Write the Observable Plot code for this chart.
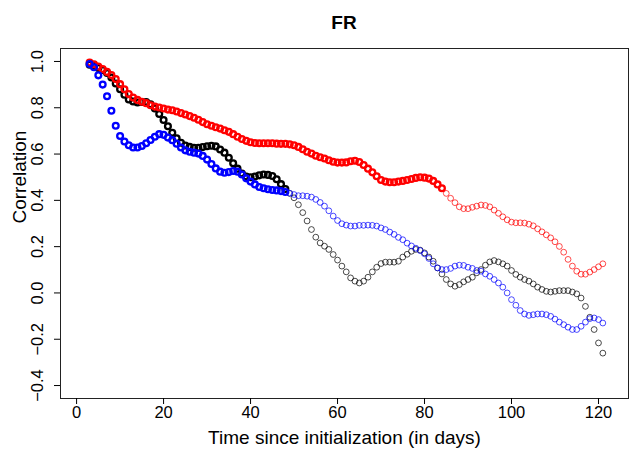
<!DOCTYPE html>
<html>
<head>
<meta charset="utf-8">
<script src="https://cdn.jsdelivr.net/npm/d3@7"></script>
<script src="https://cdn.jsdelivr.net/npm/@observablehq/plot@0.6"></script>
<style>
  html, body { margin: 0; padding: 0; background: #ffffff; }
  #wrap { position: relative; width: 630px; height: 450px; background: #ffffff; }
  #title { position: absolute; left: 60px; width: 568px; top: 12px; text-align: center;
           font: bold 19px "Liberation Sans", Arial, sans-serif; line-height: 22px; color: #000; }
  #chart { position: absolute; left: 0; top: 0; }
</style>
</head>
<body>
<div id="wrap">
  <div id="chart"></div>
  <div id="title"></div>
</div>
<script>
const title = "FR";
const xLabel = "Time since initialization (in days)";
const yLabel = "Correlation";
const xTicks = [0, 20, 40, 60, 80, 100, 120];
const yTicks = [-0.4, -0.2, 0.0, 0.2, 0.4, 0.6, 0.8, 1.0];

const days = [3,4,5,6,7,8,9,10,11,12,13,14,15,16,17,18,19,20,21,22,23,24,25,26,27,28,29,30,
  31,32,33,34,35,36,37,38,39,40,41,42,43,44,45,46,47,48,49,50,51,52,53,54,55,56,57,58,59,60,
  61,62,63,64,65,66,67,68,69,70,71,72,73,74,75,76,77,78,79,80,81,82,83,84,85,86,87,88,89,90,
  91,92,93,94,95,96,97,98,99,100,101,102,103,104,105,106,107,108,109,110,111,112,113,114,115,
  116,117,118,119,120,121];

const redValues = [0.995,0.988,0.978,0.967,0.955,0.941,0.924,0.902,0.880,0.859,0.844,0.834,0.826,0.820,
  0.811,0.805,0.801,0.797,0.792,0.789,0.784,0.777,0.771,0.764,0.757,0.748,0.738,0.729,0.722,0.716,
  0.710,0.703,0.696,0.686,0.675,0.665,0.657,0.651,0.648,0.647,0.647,0.647,0.647,0.645,0.644,0.644,
  0.642,0.638,0.631,0.621,0.610,0.602,0.593,0.586,0.581,0.573,0.567,0.563,0.563,0.564,0.569,0.571,
  0.566,0.553,0.537,0.521,0.504,0.488,0.481,0.478,0.478,0.481,0.484,0.488,0.492,0.497,0.500,0.498,
  0.494,0.484,0.469,0.452,0.430,0.409,0.390,0.372,0.364,0.364,0.370,0.375,0.380,0.378,0.372,0.358,
  0.344,0.329,0.316,0.306,0.303,0.303,0.302,0.297,0.290,0.277,0.264,0.251,0.238,0.221,0.201,0.176,
  0.145,0.116,0.094,0.081,0.081,0.090,0.101,0.113,0.126];

const blackValues = [0.986,0.980,0.972,0.963,0.950,0.931,0.905,0.880,0.856,0.836,0.827,0.823,0.825,0.825,
  0.815,0.797,0.773,0.747,0.720,0.692,0.668,0.649,0.637,0.631,0.627,0.627,0.630,0.634,0.636,0.633,
  0.620,0.606,0.584,0.560,0.537,0.516,0.503,0.500,0.503,0.508,0.512,0.510,0.505,0.491,0.470,0.449,
  0.430,0.411,0.381,0.347,0.311,0.274,0.241,0.216,0.202,0.188,0.166,0.142,0.116,0.091,0.065,0.051,
  0.043,0.051,0.068,0.091,0.111,0.127,0.133,0.133,0.133,0.137,0.155,0.167,0.180,0.188,0.185,0.173,
  0.155,0.137,0.108,0.082,0.058,0.039,0.029,0.036,0.048,0.058,0.068,0.087,0.101,0.120,0.134,0.140,
  0.134,0.126,0.116,0.097,0.080,0.068,0.058,0.051,0.039,0.025,0.015,0.007,0.004,0.007,0.010,0.010,
  0.010,0.004,-0.004,-0.022,-0.058,-0.105,-0.158,-0.216,-0.260];

const blueValues = [0.989,0.975,0.940,0.900,0.850,0.787,0.722,0.678,0.654,0.638,0.628,0.628,0.635,0.647,
  0.661,0.675,0.686,0.683,0.671,0.660,0.645,0.628,0.616,0.610,0.606,0.602,0.592,0.576,0.557,0.538,
  0.524,0.519,0.522,0.527,0.524,0.512,0.495,0.481,0.469,0.458,0.452,0.448,0.445,0.443,0.440,0.436,
  0.431,0.425,0.420,0.420,0.418,0.414,0.404,0.391,0.375,0.355,0.332,0.313,0.299,0.293,0.289,0.289,
  0.292,0.292,0.293,0.292,0.289,0.281,0.274,0.263,0.253,0.240,0.230,0.215,0.203,0.193,0.183,0.169,
  0.149,0.126,0.108,0.101,0.101,0.106,0.116,0.120,0.119,0.111,0.106,0.097,0.094,0.082,0.072,0.058,
  0.043,0.025,0.000,-0.029,-0.053,-0.076,-0.091,-0.097,-0.094,-0.091,-0.091,-0.094,-0.101,-0.113,
  -0.126,-0.137,-0.148,-0.158,-0.158,-0.144,-0.126,-0.111,-0.108,-0.115,-0.130];

// last day drawn with the heavy circle for each series
const seriesNames = ["black", "red", "blue"];
const seriesColors = ["#000000", "#ff0000", "#0000ff"];
const boldUntil = [48, 84, 48];
const seriesValues = [blackValues, redValues, blueValues];

document.getElementById("title").textContent = title;

const marks = [
  Plot.frame({stroke: "#222", strokeWidth: 1}),
  Plot.axisX(xTicks, {tickSize: 6, tickPadding: 2, fontSize: 16.5, label: null}),
  Plot.axisY(yTicks, {tickSize: 6, tickPadding: 12, tickRotate: -90, fontSize: 16.5,
    tickFormat: d => d.toFixed(1).replace("-", "\u2212"), label: null}),
  Plot.text([xLabel], {frameAnchor: "bottom", dy: 39, lineAnchor: "middle", fontSize: 19, text: d => d}),
  Plot.text([yLabel], {frameAnchor: "left", dx: -41, rotate: -90, lineAnchor: "middle", fontSize: 19, text: d => d})
];

seriesNames.forEach((name, i) => {
  const rows = days.map((d, j) => ({day: d, value: seriesValues[i][j]}));
  const bold = rows.filter(r => r.day <= boldUntil[i]);
  const thin = rows.filter(r => r.day > boldUntil[i]);
  marks.push(Plot.dot(thin, {x: "day", y: "value", r: 2.9, stroke: seriesColors[i], strokeWidth: 1, strokeOpacity: 0.7}));
  marks.push(Plot.dot(bold, {x: "day", y: "value", r: 2.9, stroke: seriesColors[i], strokeWidth: 2.3}));
});

const chart = Plot.plot({
  width: 630,
  height: 450,
  marginLeft: 60,
  marginRight: 2,
  marginTop: 48,
  marginBottom: 52,
  x: {domain: [-3.7, 126.9]},
  y: {domain: [-0.456, 1.056]},
  style: {fontFamily: "'Liberation Sans', Arial, sans-serif", fontSize: "16px", background: "#ffffff", color: "#000"},
  marks
});
document.getElementById("chart").appendChild(chart);
</script>
</body>
</html>
